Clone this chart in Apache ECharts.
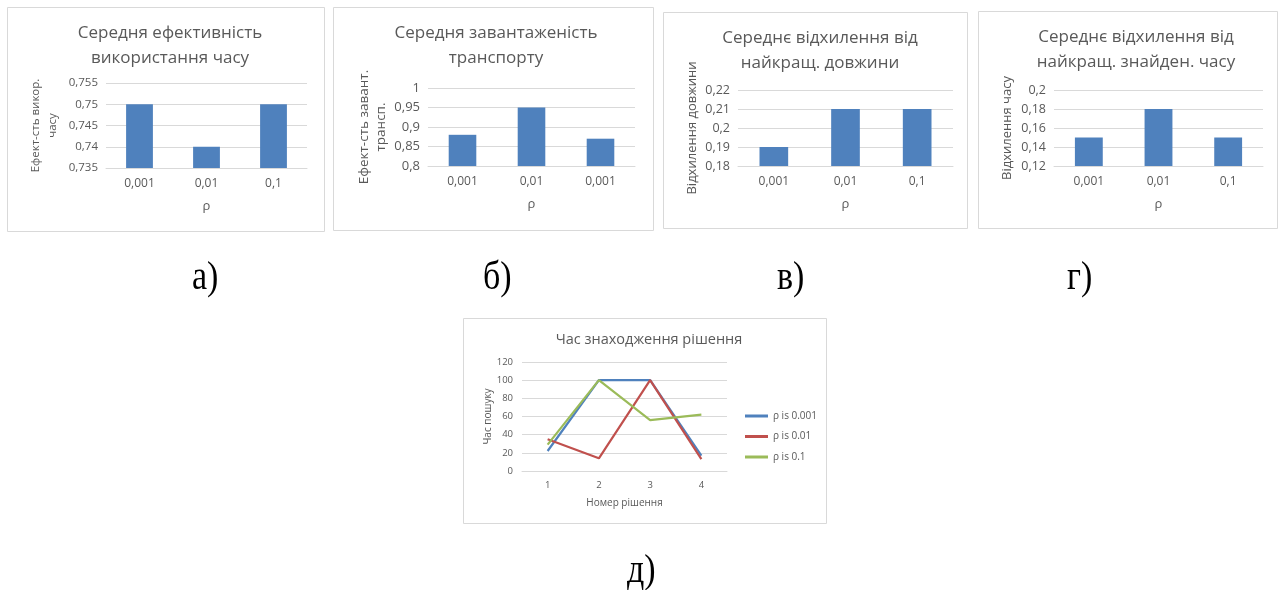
<!DOCTYPE html>
<html><head><meta charset="utf-8">
<script src="https://cdn.jsdelivr.net/npm/echarts@6/dist/echarts.min.js"></script>
<style>html,body{margin:0;padding:0;background:#fff;}#c{width:1279px;height:590px;}</style>
</head><body><div id="c"></div>
<script>
// ---- data ----
const catsA = ['0,001', '0,01', '0,1'];
const valsA = [0.75, 0.74, 0.75];
const catsB = ['0,001', '0,01', '0,001'];
const valsB = [0.88, 0.95, 0.87];
const catsC = ['0,001', '0,01', '0,1'];
const valsC = [0.19, 0.21, 0.21];
const catsD = ['0,001', '0,01', '0,1'];
const valsD = [0.15, 0.18, 0.15];
const catsE = ['1', '2', '3', '4'];
const lineNames = ['ρ is 0.001', 'ρ is 0.01', 'ρ is 0.1'];
const line1 = [22, 100, 100, 17];
const line2 = [35, 14, 100, 13];
const line3 = [29, 100, 56, 62];
const panelLabels = ['а)', 'б)', 'в)', 'г)', 'д)'];

const FONT = 'Open Sans';
const GREY = '#595959';
const GRIDC = '#d9d9d9';
const fmt = v => String(parseFloat(v.toFixed(4))).replace('.', ',');

const grids = [
  {left: 106, top: 83, width: 201, height: 85},
  {left: 428, top: 88, width: 207, height: 78},
  {left: 738, top: 90, width: 215, height: 76},
  {left: 1054, top: 90, width: 209, height: 76},
  {left: 522, top: 362, width: 205, height: 109}
];
const barCats = [catsA, catsB, catsC, catsD];
const barVals = [valsA, valsB, valsC, valsD];
const yCfg = [
  {min: 0.735, max: 0.755, interval: 0.005, name: 'Ефект-сть викор.\nчасу', gap: 45, fs: 11.5, nfs: 11.5},
  {min: 0.8, max: 1, interval: 0.05, name: 'Ефект-сть завант.\nтрансп.', gap: 38, fs: 13, nfs: 13.5},
  {min: 0.18, max: 0.22, interval: 0.01, name: 'Відхилення довжини', gap: 37, fs: 12.5, nfs: 13},
  {min: 0.12, max: 0.2, interval: 0.02, name: 'Відхилення часу', gap: 38, fs: 12.5, nfs: 13}
];

const xAxis = [], yAxis = [], series = [];
for (let i = 0; i < 4; i++) {
  xAxis.push({
    type: 'category', gridIndex: i, data: barCats[i],
    name: 'ρ', nameLocation: 'middle', nameGap: 32,
    nameTextStyle: {fontFamily: FONT, fontSize: 13, color: GREY},
    axisLine: {show: true, lineStyle: {color: GRIDC}},
    axisTick: {show: false},
    axisLabel: {fontFamily: FONT, fontSize: 12, color: GREY, margin: 10, interval: 0}
  });
  const c = yCfg[i];
  yAxis.push({
    type: 'value', gridIndex: i, min: c.min, max: c.max, interval: c.interval,
    name: c.name, nameLocation: 'middle', nameGap: c.gap, nameRotate: 90,
    nameTextStyle: {fontFamily: FONT, fontSize: c.nfs, color: GREY, lineHeight: 17},
    axisLine: {show: false}, axisTick: {show: false},
    splitLine: {lineStyle: {color: GRIDC}},
    axisLabel: {fontFamily: FONT, fontSize: c.fs, color: GREY, formatter: fmt, margin: 8}
  });
  series.push({
    type: 'bar', xAxisIndex: i, yAxisIndex: i, data: barVals[i],
    barCategoryGap: '60%', itemStyle: {color: '#4F81BD'}, silent: true
  });
}
xAxis.push({
  type: 'category', gridIndex: 4, data: catsE,
  name: 'Номер рішення', nameLocation: 'middle', nameGap: 27,
  nameTextStyle: {fontFamily: FONT, fontSize: 10, color: GREY},
  axisLine: {show: true, lineStyle: {color: GRIDC}}, axisTick: {show: false},
  axisLabel: {fontFamily: FONT, fontSize: 9.5, color: GREY, margin: 9}
});
yAxis.push({
  type: 'value', gridIndex: 4, min: 0, max: 120, interval: 20,
  name: 'Час пошуку', nameLocation: 'middle', nameGap: 26,
  nameTextStyle: {fontFamily: FONT, fontSize: 10, color: GREY},
  axisLine: {show: false}, axisTick: {show: false},
  splitLine: {lineStyle: {color: GRIDC}},
  axisLabel: {fontFamily: FONT, fontSize: 9.5, color: GREY, margin: 9}
});
const lineVals = [line1, line2, line3];
const lineColors = ['#4F81BD', '#C0504D', '#9BBB59'];
for (let k = 0; k < 3; k++) {
  series.push({
    type: 'line', name: lineNames[k], xAxisIndex: 4, yAxisIndex: 4, data: lineVals[k],
    symbol: 'none', lineStyle: {width: 2.2, color: lineColors[k]}, itemStyle: {color: lineColors[k]}, silent: true
  });
}

const titleStyle = (fs) => ({fontFamily: FONT, fontSize: fs, fontWeight: 'normal', color: GREY, lineHeight: 25});
const title = [
  {text: 'Середня ефективність\nвикористання часу', left: 165, top: 16, textAlign: 'center', textStyle: titleStyle(17)},
  {text: 'Середня завантаженість\nтранспорту', left: 491, top: 16, textAlign: 'center', textStyle: titleStyle(17)},
  {text: 'Середнє відхилення від\nнайкращ. довжини', left: 815, top: 21, textAlign: 'center', textStyle: titleStyle(17)},
  {text: 'Середнє відхилення від\nнайкращ. знайден. часу', left: 1131, top: 20, textAlign: 'center', textStyle: titleStyle(17)},
  {text: 'Час знаходження рішення', left: 644, top: 327, textAlign: 'center', textStyle: {fontFamily: FONT, fontSize: 14.5, fontWeight: 'normal', color: GREY}}
];

const boxes = [[7, 7, 317, 224], [333, 7, 320, 223], [663, 12, 304, 216], [978, 11, 299, 217], [463, 318, 363, 205]];
const graphic = boxes.map(b => ({type: 'rect', shape: {x: b[0] + 0.5, y: b[1] + 0.5, width: b[2], height: b[3]}, style: {fill: 'none', stroke: GRIDC, lineWidth: 1}, silent: true}));
const labelPos = [[192, 259], [483, 259], [777, 259], [1067, 259], [627, 552]];
labelPos.forEach((p, i) => graphic.push({
  type: 'text', x: p[0], y: p[1], scaleY: 1.15,
  style: {text: panelLabels[i], fontFamily: 'Liberation Serif', fontSize: 34, fill: '#000', textVerticalAlign: 'top'}, silent: true
}));

const chart = echarts.init(document.getElementById('c'), null, {renderer: 'canvas'});
chart.setOption({
  backgroundColor: '#fff',
  animation: false,
  title: title,
  grid: grids,
  xAxis: xAxis,
  yAxis: yAxis,
  series: series,
  legend: {
    data: lineNames, orient: 'vertical', left: 745, top: 411, padding: 0,
    icon: 'rect', itemWidth: 23, itemHeight: 3, itemGap: 10.5,
    textStyle: {fontFamily: FONT, fontSize: 10, color: GREY}, selectedMode: false
  },
  graphic: graphic
});
</script></body></html>
